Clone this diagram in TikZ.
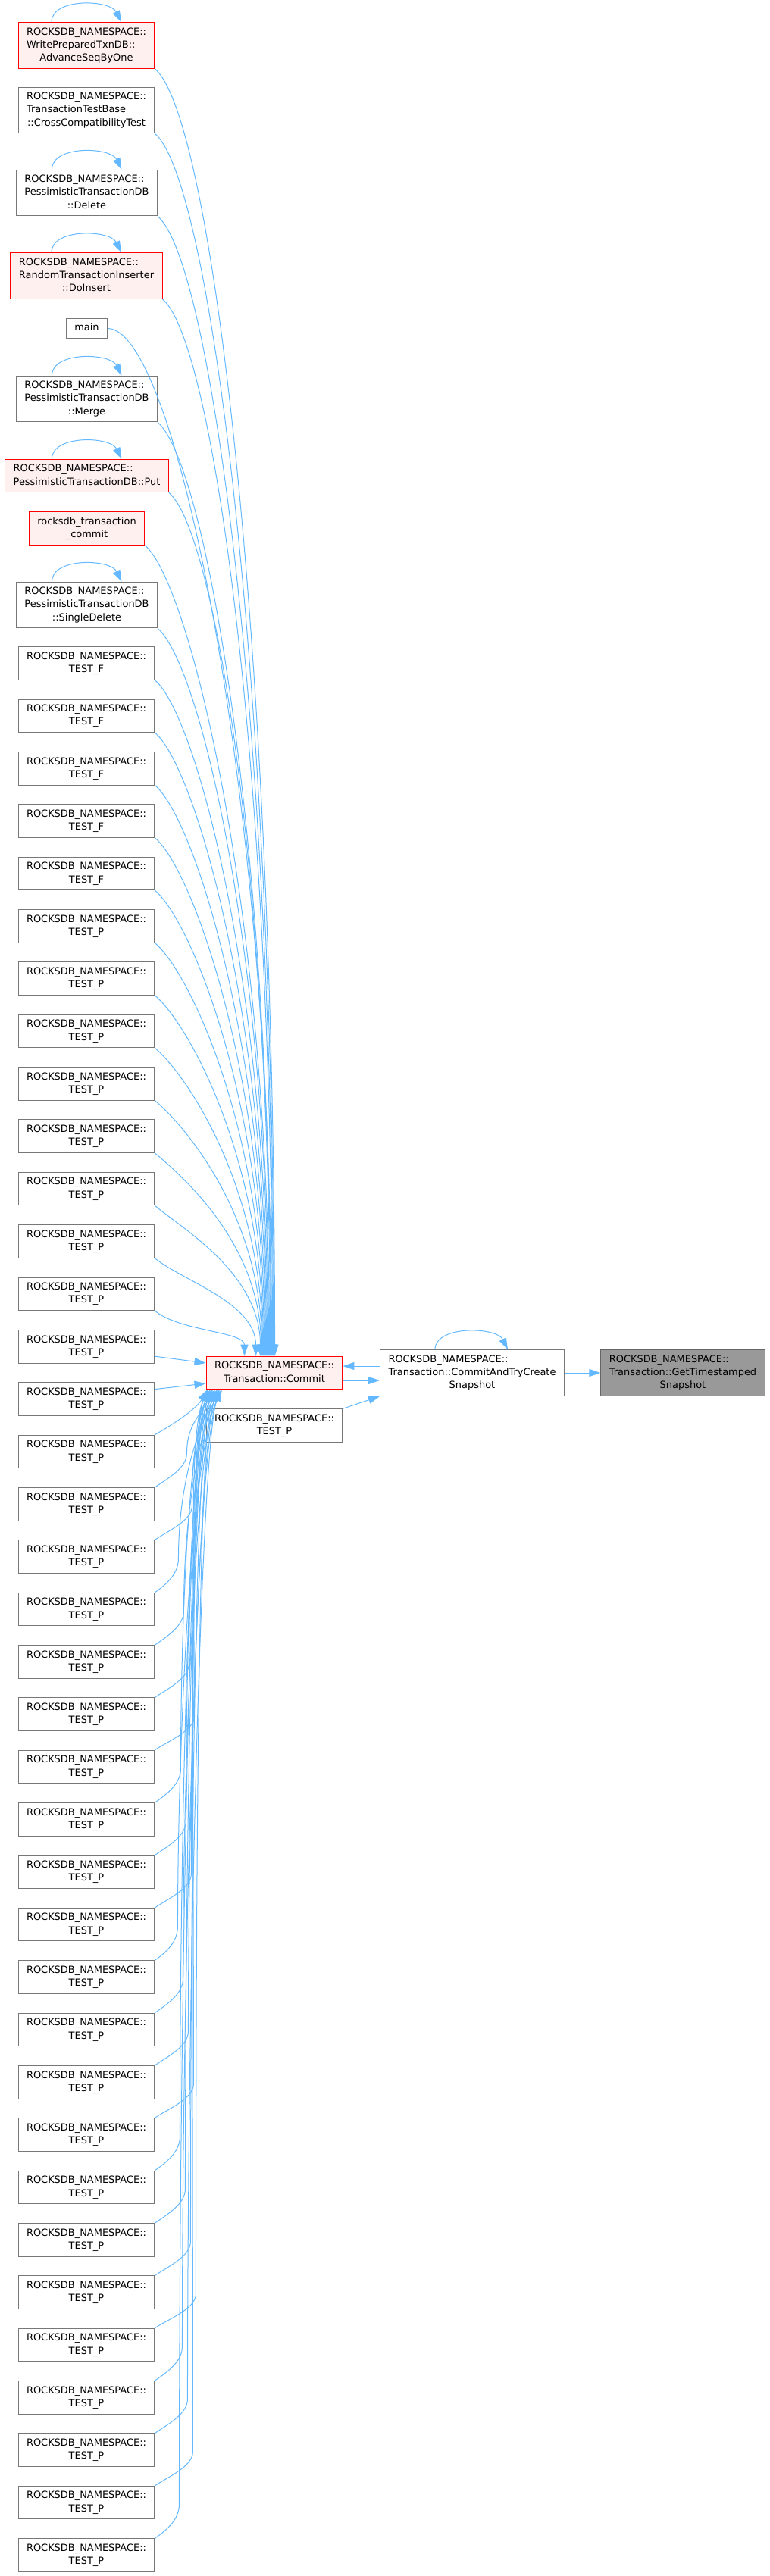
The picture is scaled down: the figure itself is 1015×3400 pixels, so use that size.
\documentclass[tikz,border=0pt]{standalone}
\usepackage{fontspec}
\setmainfont{DejaVu Sans}
\usetikzlibrary{arrows.meta, positioning}
\definecolor{edgeblue}{HTML}{63B8FF}
\definecolor{boxgray}{HTML}{777777}
\definecolor{rootgray}{HTML}{999999}
\definecolor{rootline}{HTML}{666666}
\definecolor{hotfill}{HTML}{FFF0F0}
\newcommand{\fnlbl}[2]{\begin{tabular}{@{}l@{}}#1\\\multicolumn{1}{@{}c@{}}{#2}\end{tabular}}
\newcommand{\fnone}[1]{\begin{tabular}{@{}c@{}}#1\end{tabular}}
\tikzset{
  fnbox/.style={draw=boxgray, fill=white, line width=1pt, inner xsep=11pt,
                inner ysep=4.5pt, font=\fontsize{12.95}{17.3}\selectfont},
  hotbox/.style={fnbox, draw=red, fill=hotfill},
  rootbox/.style={fnbox, draw=rootline, fill=rootgray},
  callarrow/.style={draw=edgeblue, line width=1pt, -{Triangle[length=15pt,width=10pt]}},
}
\begin{document}
\begin{tikzpicture}[x=1pt, y=1pt]
  \useasboundingbox (0,0) rectangle (1015,-3400);

  % Named callers
  \node[hotbox] (wp) at (114,-60)
    {\fnlbl{ROCKSDB\_NAMESPACE::\\WritePreparedTxnDB::}{AdvanceSeqByOne}};
  \node[fnbox] (cct) at (114,-145.5)
    {\fnlbl{ROCKSDB\_NAMESPACE::\\TransactionTestBase}{::CrossCompatibilityTest}};
  \node[fnbox] (del) at (114.5,-254.5)
    {\fnlbl{ROCKSDB\_NAMESPACE::\\PessimisticTransactionDB}{::Delete}};
  \node[hotbox] (ins) at (114,-364)
    {\fnlbl{ROCKSDB\_NAMESPACE::\\RandomTransactionInserter}{::DoInsert}};
  \node[fnbox] (main) at (114.5,-433.5) {\fnone{main}};
  \node[fnbox] (merge) at (114.5,-526.5)
    {\fnlbl{ROCKSDB\_NAMESPACE::\\PessimisticTransactionDB}{::Merge}};
  \node[hotbox] (put) at (114.5,-628)
    {\fnlbl{ROCKSDB\_NAMESPACE::}{PessimisticTransactionDB::Put}};
  \node[hotbox] (rtc) at (114.5,-697.5)
    {\fnlbl{rocksdb\_transaction}{\_commit}};
  \node[fnbox] (sdel) at (114.5,-798.5)
    {\fnlbl{ROCKSDB\_NAMESPACE::\\PessimisticTransactionDB}{::SingleDelete}};

  % TEST_F / TEST_P column
  \foreach \k in {0,...,36}{
    \node[fnbox] (tl\k) at (114,{-875.5-69.36*\k})
      {\fnlbl{ROCKSDB\_NAMESPACE::}{TEST\_\ifnum\k<5 F\else P\fi}};
  }

  % Commit and the chain to the right
  \node[hotbox] (commit) at (362,-1812)
    {\fnlbl{ROCKSDB\_NAMESPACE::}{Transaction::Commit}};
  \node[fnbox] (tpm) at (362,-1881.5)
    {\fnlbl{ROCKSDB\_NAMESPACE::}{TEST\_P}};
  \node[fnbox] (catcs) at (623,-1812)
    {\fnlbl{ROCKSDB\_NAMESPACE::\\Transaction::CommitAndTryCreate}{Snapshot}};
  \node[rootbox] (gts) at (901,-1812)
    {\fnlbl{ROCKSDB\_NAMESPACE::\\Transaction::GetTimestamped}{Snapshot}};

  % Self calls
  \foreach \n in {wp,del,ins,merge,put,sdel}{
    \draw[callarrow] ([xshift=-46pt]\n.north) .. controls +(0,32) and +(-15,30) .. ([xshift=46pt]\n.north);
  }
  \draw[callarrow] ([xshift=-49pt]catcs.north) .. controls +(0,32) and +(-15,30) .. ([xshift=47pt]catcs.north);

  % Callers above Commit
  \foreach \src/\yb/\ex in {wp/91/91, cct/176/90, del/285/89, ins/395/88,
                            merge/557/86, put/650/85, rtc/720/84, sdel/829/83}{
    \pgfmathsetmacro{\od}{40+0.035*(1789-\yb)}
    \pgfmathsetmacro{\id}{0.55*(1789-\yb)}
    \draw[callarrow] (\src.south east) .. controls +(-40:\od) and +(0,\id)
      .. ([xshift=\ex pt]commit.north west);
  }
  \draw[callarrow] (main.east) .. controls +(90,0) and +(0,745)
    .. ([xshift=87pt]commit.north west);
  \foreach \k in {0,...,12}{
    \pgfmathsetmacro{\dy}{891-69.36*\k}
    \pgfmathsetmacro{\od}{40+0.035*\dy}
    \pgfmathsetmacro{\id}{0.55*\dy}
    \pgfmathsetmacro{\ex}{\k<11 ? 82-\k : (\k==11 ? 66 : 51)}
    \draw[callarrow] (tl\k.south east) .. controls +(-40:\od) and +(0,\id)
      .. ([xshift=\ex pt]commit.north west);
  }

  % Callers level with Commit
  \draw[callarrow] ([yshift=-13pt]tl13.east) -- ([yshift=13pt]commit.west);
  \draw[callarrow] ([yshift=13pt]tl14.east) -- ([yshift=-14pt]commit.west);

  % Callers below Commit
  \draw[callarrow] (tl15.north east) .. controls +(30:30) and +(-120:30)
    .. ([xshift=2pt]commit.south west);
  \foreach \k in {16,...,36}{
    \pgfmathsetmacro{\bx}{30+mod(7*\k,25)}
    \pgfmathsetmacro{\dy}{853+69.36*\k-45-1835}
    \pgfmathsetmacro{\od}{0.45*\dy}
    \pgfmathsetmacro{\id}{min(60,0.45*\dy)}
    \pgfmathsetmacro{\ex}{3+mod(3*\k,21)}
    \draw[callarrow] (tl\k.north east) .. controls +(35:20) and +(0,-20) .. ++(\bx,45)
      .. controls +(0,\od) and +(-115:\id) .. ([xshift=\ex pt]commit.south west);
  }

  % Commit <-> CommitAndTryCreateSnapshot -> GetTimestampedSnapshot
  \draw[callarrow] ([yshift=9pt]catcs.west) -- ([yshift=9pt]commit.east);
  \draw[callarrow] ([yshift=-10pt]commit.east) -- ([yshift=-10pt]catcs.west);
  \draw[callarrow] (tpm.north east) -- (catcs.south west);
  \draw[callarrow] (catcs.east) -- (gts.west);
\end{tikzpicture}
\end{document}
